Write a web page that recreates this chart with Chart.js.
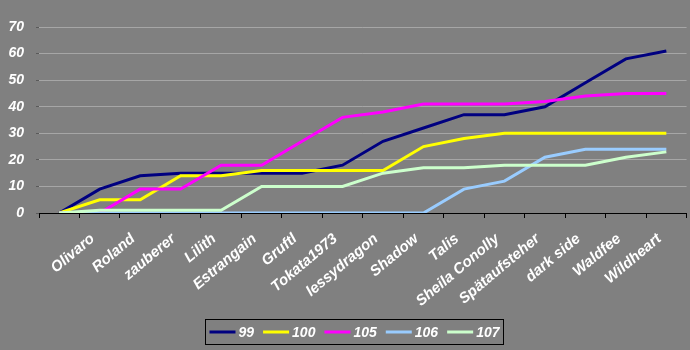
<!DOCTYPE html>
<html>
<head>
<meta charset="utf-8">
<script src="https://cdn.jsdelivr.net/npm/chart.js@4"></script>
<style>
    html, body { margin: 0; padding: 0; background: #808080; }
    canvas { display: block; }
</style>
</head>
<body>
<canvas id="myChart" width="690" height="350"></canvas>
<script>
const labels = [
    '',
    'Olivaro',
    'Roland',
    'zauberer',
    'Lilith',
    'Estrangain',
    'Gruftl',
    'Tokata1973',
    'lessydragon',
    'Shadow',
    'Talis',
    'Sheila Conolly',
    'Spätaufsteher',
    'dark side',
    'Waldfee',
    'Wildheart',
];

const series99 = [0, 9, 14, 15, 15, 15, 15, 18, 27, 32, 37, 37, 40, 49, 58, 61];
const series100 = [0, 5, 5, 14, 14, 16, 16, 16, 16, 25, 28, 30, 30, 30, 30, 30];
const series105 = [0, 0, 9, 9, 18, 18, 27, 36, 38, 41, 41, 41, 42, 44, 45, 45];
const series106 = [0, 0, 0, 0, 0, 0, 0, 0, 0, 0, 9, 12, 21, 24, 24, 24];
const series107 = [0, 1, 1, 1, 1, 10, 10, 10, 15, 17, 17, 18, 18, 18, 21, 23];

const yTicks = [0, 10, 20, 30, 40, 50, 60, 70];

const FAMILY = '"Liberation Sans", Arial, sans-serif';
const FONT = { family: FAMILY, size: 14, weight: 'bold', style: 'italic' };

function line(label, values, color, order) {
    return {
        label: label,
        data: values,
        borderColor: color,
        backgroundColor: color,
        borderWidth: 3,
        pointRadius: 0,
        tension: 0,
        order: order, // later series drawn on top
    };
}

const data = {
    labels: labels,
    datasets: [
        line('99', series99, '#000080', 5),
        line('100', series100, '#ffff00', 4),
        line('105', series105, '#ff00ff', 3),
        line('106', series106, '#99ccff', 2),
        line('107', series107, '#ccffcc', 1),
    ]
};

// framed legend under the axis labels
const boxLegend = {
    id: 'boxLegend',
    afterDraw: function (chart) {
        const ctx = chart.ctx;
        const sets = chart.data.datasets;
        const sample = 26, gap = 3, space = 9, pad = 4;
        ctx.save();
        ctx.font = 'italic bold 14px ' + FAMILY;
        let total = pad * 2;
        sets.forEach(function (ds, i) {
            total += sample + gap + ctx.measureText(ds.label).width;
            if (i > 0) total += space;
        });
        const left = Math.round(354 - total / 2) + 0.5;
        const top = 319.5, h = 25;
        ctx.strokeStyle = '#000';
        ctx.lineWidth = 1;
        ctx.strokeRect(left, top, Math.round(total), h);

        let x = left + pad;
        const mid = top + h / 2;
        ctx.textBaseline = 'middle';
        ctx.textAlign = 'left';
        sets.forEach(function (ds) {
            ctx.strokeStyle = ds.borderColor;
            ctx.lineWidth = 3;
            ctx.beginPath();
            ctx.moveTo(x, mid);
            ctx.lineTo(x + sample, mid);
            ctx.stroke();
            x += sample + gap;
            ctx.fillStyle = '#fff';
            ctx.fillText(ds.label, x, mid + 1);
            x += ctx.measureText(ds.label).width + space;
        });
        ctx.restore();
    }
};

const config = {
    type: 'line',
    data: data,
    plugins: [boxLegend],
    options: {
        responsive: false,
        animation: false,
        layout: {
            padding: { top: 27, right: 3, left: 0, bottom: 0 }
        },
        plugins: {
            legend: { display: false },
            tooltip: { enabled: false }
        },
        scales: {
            x: {
                offset: true,
                grid: {
                    offset: true,
                    drawOnChartArea: false,
                    tickLength: 5,
                    color: '#000'
                },
                border: { color: '#000', width: 1 },
                ticks: {
                    color: '#fff',
                    font: { family: FAMILY, size: 15, weight: 'bold', style: 'italic' },
                    autoSkip: false,
                    minRotation: 40,
                    maxRotation: 40,
                    labelOffset: -7,
                    padding: 12
                },
                afterFit: function (scale) {
                    scale.height = 137;
                }
            },
            y: {
                min: 0,
                max: 70,
                afterBuildTicks: function (scale) {
                    scale.ticks = yTicks.map(function (v) { return { value: v }; });
                },
                grid: {
                    color: '#a6a6a6',
                    tickColor: '#5a5a5a',
                    tickLength: 3
                },
                border: { display: false },
                ticks: {
                    color: '#fff',
                    font: FONT,
                    padding: 12
                },
                afterFit: function (scale) {
                    scale.width = 39;
                }
            }
        }
    }
};

const myChart = new Chart(
    document.getElementById('myChart'),
    config
);
</script>
</body>
</html>
